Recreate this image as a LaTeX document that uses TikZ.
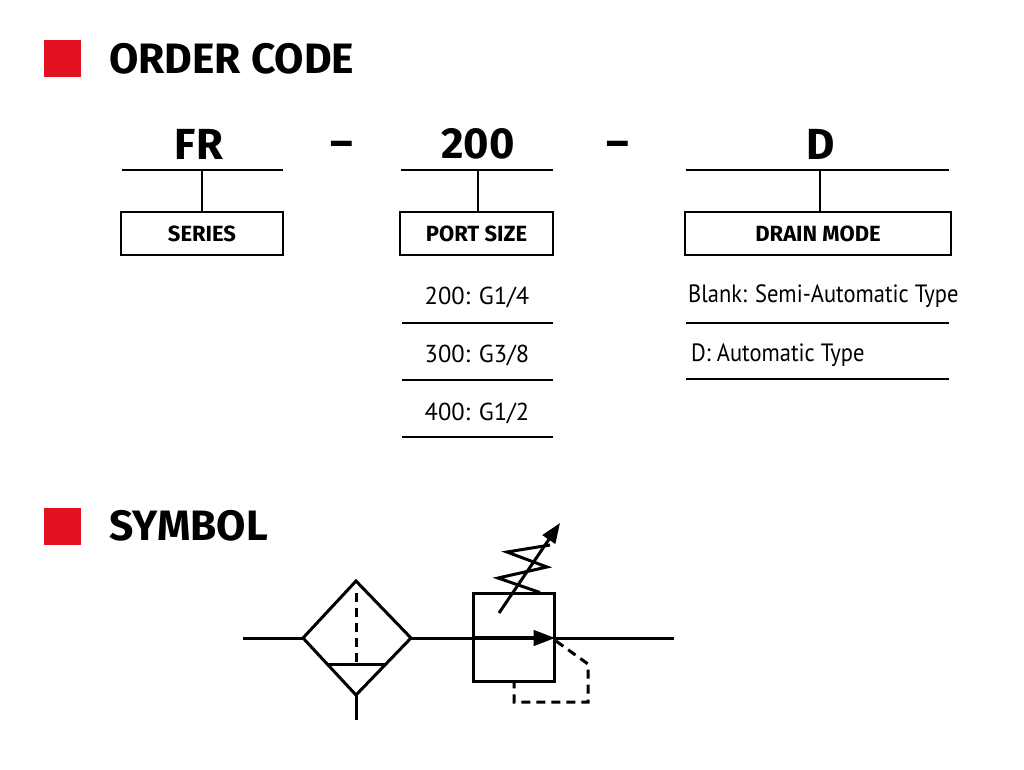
\documentclass[tikz,border=0pt]{standalone}
\usepackage{fontspec}
\setmainfont{Fira Sans}
\newfontfamily\choicefont{PT Sans}
\newfontfamily\narrowfont[FakeStretch=0.9]{PT Sans}
\usetikzlibrary{arrows.meta}
\definecolor{markred}{RGB}{227,18,32}
\begin{document}
\begin{tikzpicture}[
  x=1pt, y=-1pt,
  marker/.style={fill=markred, draw=none, minimum size=37pt, inner sep=0pt},
  heading/.style={anchor=west, font=\fontsize{42.5}{44}\selectfont\bfseries, inner sep=0pt},
  codepart/.style={font=\fontsize{43.5}{45}\selectfont\bfseries, inner sep=0pt},
  fieldbox/.style={draw, line width=2pt, minimum height=43pt, inner sep=0pt, font=\fontsize{22}{24}\selectfont\bfseries},
  choice/.style={font=\fontsize{24.5}{26}\selectfont\choicefont, inner sep=0pt},
  drainchoice/.style={anchor=west, font=\fontsize{25}{27}\selectfont\narrowfont, inner sep=0pt},
  rule/.style={line width=2pt},
  pipe/.style={line width=3pt},
  pilot/.style={line width=3pt, dash pattern=on 9pt off 6pt}
]
\useasboundingbox (0,0) rectangle (1024,769);
\fill[white] (0,0) rectangle (1024,769);

% section titles
\node[marker] (mark1) at (62,58) {};
\node[heading] (title1) at (109,59) {ORDER CODE};
\node[marker] (mark2) at (62,526) {};
\node[heading] (title2) at (109,526) {SYMBOL};

% code parts
\node[codepart] (fr) at (199,144) {FR};
\node[codepart] (dash1) at (342,149) {–};
\node[codepart] (size) at (478,144) {200};
\node[codepart] (dash2) at (618,149) {–};
\node[codepart] (drain) at (821,144) {D};

\node[fieldbox, minimum width=162pt] (series) at (202,233.5) {SERIES};
\node[fieldbox, minimum width=153pt] (port) at (476.5,233.5) {PORT SIZE};
\node[fieldbox, minimum width=266pt] (mode) at (818,233.5) {DRAIN MODE};

\coordinate (fra) at (122,170);
\coordinate (frb) at (283,170);
\coordinate (frc) at (202,170);
\coordinate (sza) at (401,170);
\coordinate (szb) at (553,170);
\coordinate (szc) at (477.5,170);
\coordinate (dra) at (686,170);
\coordinate (drb) at (949,170);
\coordinate (drc) at (820,170);
\draw[rule] (fra) -- (frb);
\draw[rule] (sza) -- (szb);
\draw[rule] (dra) -- (drb);
\draw[rule] (frc) -- (series.north -| frc);
\draw[rule] (szc) -- (port.north -| szc);
\draw[rule] (drc) -- (mode.north -| drc);

% port sizes
\node[choice] (g14) at (477,297) {200: G1/4};
\node[choice] (g38) at (477,355) {300: G3/8};
\node[choice] (g12) at (477,413) {400: G1/2};
\draw[rule] (402,323) -- (553,323);
\draw[rule] (402,380) -- (553,380);
\draw[rule] (402,437) -- (553,437);

% drain modes
\node[drainchoice] (semi) at (688,296) {Blank: Semi-Automatic Type};
\node[drainchoice] (auto) at (691,355) {D: Automatic Type};
\draw[rule] (686,323) -- (949,323);
\draw[rule] (686,379) -- (949,379);

% filter
\coordinate (inlet) at (243,638);
\coordinate (fw) at (303,638);
\coordinate (fn) at (356,581);
\coordinate (fe) at (411,638);
\coordinate (fs) at (356,695);
\coordinate (tail) at (356,720);
\coordinate (outlet) at (674,638);
\draw[pipe, line join=miter] (fw) -- (fn) -- (fe) -- (fs) -- cycle;
\draw[pipe] (inlet) -- (fw);
\draw[pipe] (fs) -- (tail);
\draw[pipe] (328,664) -- (386,664);
\draw[pilot] (356,593) -- (356,664);

% regulator
\node[draw, line width=3pt, minimum width=81pt, minimum height=88pt, inner sep=0pt] (valve) at (513.5,637) {};
\draw[pipe] (fe) -- (valve.west |- fe);
\draw[pipe] (valve.east |- fe) -- (outlet);
\draw[line width=4.5pt, -{Triangle[length=22pt, width=15pt]}] (valve.west |- fe) -- (valve.east |- fe);
\draw[pipe] (540,592.5) -- (498,578) -- (547,567) -- (507,552) -- (550,545);
\draw[pipe, -{Triangle[length=20pt, width=15pt]}] (499,613) -- (560,523);
\draw[pilot] (556,641) -- (588,664) -- (588,702) -- (514,702) -- (514,682);
\end{tikzpicture}
\end{document}
